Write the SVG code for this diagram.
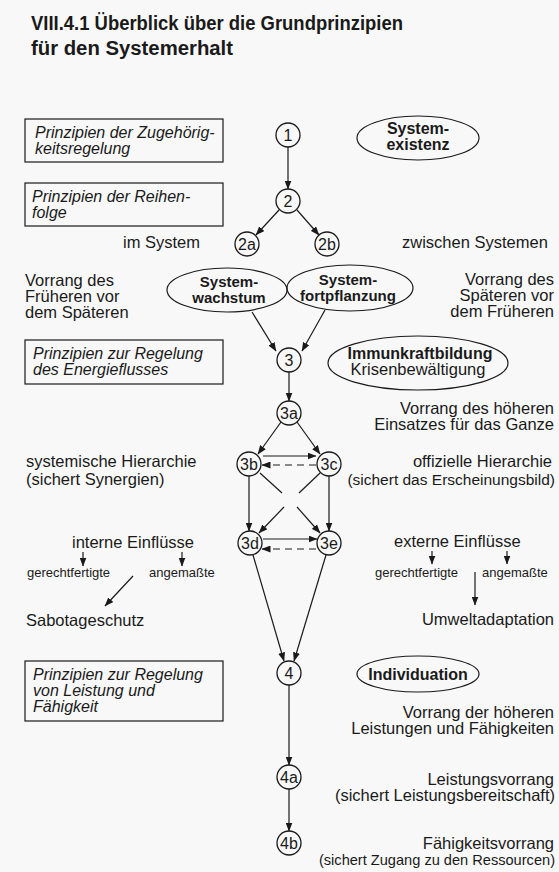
<svg xmlns="http://www.w3.org/2000/svg" width="559" height="872" viewBox="0 0 559 872">
<style>
text{font-family:"Liberation Sans",Arial,sans-serif;fill:#1a1a1a}
.t{font-size:16.5px}
.tc{font-size:15.5px}
.tz{font-size:14.6px}
.s{font-size:13px}
.b{font-size:16px;font-weight:bold}
.b2{font-size:15px;font-weight:bold}
.i{font-size:16px;font-style:italic}
.n{font-size:16px;text-anchor:middle}
.c{text-anchor:middle}
.e{text-anchor:end}
.title{font-size:20px;font-weight:bold}
.node circle{fill:none;stroke:#1a1a1a;stroke-width:1.3}
.box rect{fill:none;stroke:#1a1a1a;stroke-width:1.2}
.ell ellipse{fill:none;stroke:#1a1a1a;stroke-width:1.2}
#connectors line{stroke:#1a1a1a;stroke-width:1.2;fill:none}
#connectors .a{marker-end:url(#arr)}
#connectors .d{stroke-dasharray:7 5}
</style>
<defs>
<marker id="arr" markerWidth="9" markerHeight="7" refX="8.5" refY="3.5" orient="auto" markerUnits="userSpaceOnUse">
<path d="M0,0 L9,3.5 L0,7 z" fill="#1a1a1a"/>
</marker>
</defs>
<rect width="559" height="872" fill="#f8f8f8"/>
<g id="title">
<text class="title" x="31" y="30" textLength="372" lengthAdjust="spacingAndGlyphs">VIII.4.1 Überblick über die Grundprinzipien</text>
<text class="title" x="31" y="55" textLength="202" lengthAdjust="spacingAndGlyphs">für den Systemerhalt</text>
</g>
<g id="box1" class="box"><rect x="25" y="119" width="198" height="43"/><text class="i"><tspan x="35" y="138">Prinzipien der Zugehörig-</tspan><tspan x="35" y="154">keitsregelung</tspan></text></g>
<g id="box2" class="box"><rect x="25" y="183" width="198" height="43"/><text class="i"><tspan x="32" y="202">Prinzipien der Reihen-</tspan><tspan x="32" y="218">folge</tspan></text></g>
<g id="box3" class="box"><rect x="25" y="340" width="198" height="44"/><text class="i"><tspan x="33" y="359">Prinzipien zur Regelung</tspan><tspan x="33" y="375">des Energieflusses</tspan></text></g>
<g id="box4" class="box"><rect x="25" y="661" width="198" height="60"/><text class="i"><tspan x="33" y="680">Prinzipien zur Regelung</tspan><tspan x="33" y="696">von Leistung und</tspan><tspan x="33" y="712">Fähigkeit</tspan></text></g>
<g id="systemexistenz" class="ell"><ellipse cx="418" cy="138" rx="61" ry="22"/><text class="b c"><tspan x="418" y="134">System-</tspan><tspan x="418" y="150">existenz</tspan></text></g>
<g id="systemwachstum" class="ell"><ellipse cx="227" cy="290" rx="60" ry="22"/><text class="b2 c"><tspan x="229" y="287">System-</tspan><tspan x="229" y="303">wachstum</tspan></text></g>
<g id="systemfortpflanzung" class="ell"><ellipse cx="350" cy="288" rx="63" ry="23"/><text class="b2 c"><tspan x="348" y="285">System-</tspan><tspan x="348" y="301">fortpflanzung</tspan></text></g>
<g id="immunkraft" class="ell"><ellipse cx="418" cy="363" rx="90" ry="27"/><text class="c"><tspan class="b" x="420" y="359">Immunkraftbildung</tspan><tspan class="t" x="418" y="375">Krisenbewältigung</tspan></text></g>
<g id="individuation" class="ell"><ellipse cx="418" cy="674" rx="61" ry="18"/><text class="b c" x="418" y="680">Individuation</text></g>
<g id="n1" class="node"><circle cx="288" cy="135" r="12"/><text class="n" x="288" y="141">1</text></g>
<g id="n2" class="node"><circle cx="288" cy="201" r="12"/><text class="n" x="288" y="207">2</text></g>
<g id="n2a" class="node"><circle cx="247" cy="244" r="12"/><text class="n" x="247" y="250">2a</text></g>
<g id="n2b" class="node"><circle cx="327" cy="244" r="12"/><text class="n" x="327" y="250">2b</text></g>
<g id="n3" class="node"><circle cx="289" cy="360" r="12"/><text class="n" x="289" y="366">3</text></g>
<g id="n3a" class="node"><circle cx="289" cy="413" r="12"/><text class="n" x="289" y="419">3a</text></g>
<g id="n3b" class="node"><circle cx="249" cy="464" r="12"/><text class="n" x="249" y="470">3b</text></g>
<g id="n3c" class="node"><circle cx="329" cy="464" r="12"/><text class="n" x="329" y="470">3c</text></g>
<g id="n3d" class="node"><circle cx="250" cy="543" r="12"/><text class="n" x="250" y="549">3d</text></g>
<g id="n3e" class="node"><circle cx="329" cy="543" r="12"/><text class="n" x="329" y="549">3e</text></g>
<g id="n4" class="node"><circle cx="289" cy="673" r="12"/><text class="n" x="289" y="679">4</text></g>
<g id="n4a" class="node"><circle cx="289" cy="777" r="12"/><text class="n" x="289" y="783">4a</text></g>
<g id="n4b" class="node"><circle cx="289" cy="843" r="12"/><text class="n" x="289" y="849">4b</text></g>
<g id="labels">
<text class="t e" x="200" y="248">im System</text>
<text class="t" x="402" y="248">zwischen Systemen</text>
<text class="t"><tspan x="25" y="286">Vorrang des</tspan><tspan x="25" y="302">Früheren vor</tspan><tspan x="25" y="318">dem Späteren</tspan></text>
<text class="t e"><tspan x="554" y="285">Vorrang des</tspan><tspan x="554" y="301">Späteren vor</tspan><tspan x="554" y="317">dem Früheren</tspan></text>
<text class="t e"><tspan x="554" y="414">Vorrang des höheren</tspan><tspan x="554" y="430">Einsatzes für das Ganze</tspan></text>
<text class="t"><tspan x="26" y="467">systemische Hierarchie</tspan><tspan x="26" y="485">(sichert Synergien)</tspan></text>
<text class="e"><tspan class="t" x="552" y="467">offizielle Hierarchie</tspan><tspan class="tc" x="555" y="485">(sichert das Erscheinungsbild)</tspan></text>
<text class="t" x="72" y="548">interne Einflüsse</text>
<text class="s" x="27" y="577">gerechtfertigte</text>
<text class="s" x="149" y="577">angemaßte</text>
<text class="t" x="26" y="626">Sabotageschutz</text>
<text class="t" x="394" y="547">externe Einflüsse</text>
<text class="s" x="375" y="577">gerechtfertigte</text>
<text class="s" x="482" y="577">angemaßte</text>
<text class="t e" x="554" y="625">Umweltadaptation</text>
<text class="t e"><tspan x="554" y="718">Vorrang der höheren</tspan><tspan x="554" y="734">Leistungen und Fähigkeiten</tspan></text>
<text class="e"><tspan class="t" x="554" y="785">Leistungsvorrang</tspan><tspan class="t" x="555" y="801">(sichert Leistungsbereitschaft)</tspan></text>
<text class="e"><tspan class="t" x="554" y="849">Fähigkeitsvorrang</tspan><tspan class="tz" x="555" y="865">(sichert Zugang zu den Ressourcen)</tspan></text>
</g>
<g id="connectors">
<line class="a" x1="288" y1="147" x2="288" y2="189"/>
<line class="a" x1="279" y1="210" x2="256" y2="235"/>
<line class="a" x1="297" y1="210" x2="319" y2="235"/>
<line class="a" x1="252" y1="312" x2="276" y2="351"/>
<line class="a" x1="325" y1="310" x2="302" y2="351"/>
<line class="a" x1="289" y1="372" x2="289" y2="401"/>
<line class="a" x1="281" y1="422" x2="258" y2="454"/>
<line class="a" x1="297" y1="422" x2="320" y2="454"/>
<line class="a" x1="263" y1="456" x2="316" y2="456"/>
<line class="a d" x1="316" y1="465" x2="262" y2="465"/>
<line class="a" x1="249" y1="476" x2="249" y2="531"/>
<line class="a" x1="329" y1="476" x2="329" y2="531"/>
<line x1="260" y1="473" x2="282" y2="493"/>
<line class="a" x1="297" y1="507" x2="320" y2="533"/>
<line x1="320" y1="473" x2="299" y2="493"/>
<line class="a" x1="284" y1="507" x2="259" y2="533"/>
<line class="a" x1="263" y1="539" x2="317" y2="539"/>
<line class="a d" x1="316" y1="549" x2="262" y2="549"/>
<line class="a" x1="253" y1="555" x2="284" y2="661"/>
<line class="a" x1="326" y1="555" x2="294" y2="661"/>
<line class="a" x1="289" y1="685" x2="289" y2="765"/>
<line class="a" x1="289" y1="789" x2="289" y2="831"/>
<line class="a" x1="83" y1="552" x2="83" y2="566"/>
<line class="a" x1="182" y1="552" x2="182" y2="566"/>
<line class="a" x1="133" y1="576" x2="105" y2="606"/>
<line class="a" x1="432" y1="551" x2="432" y2="564"/>
<line class="a" x1="507" y1="551" x2="507" y2="564"/>
<line class="a" x1="475" y1="572" x2="475" y2="605"/>
</g>
</svg>
